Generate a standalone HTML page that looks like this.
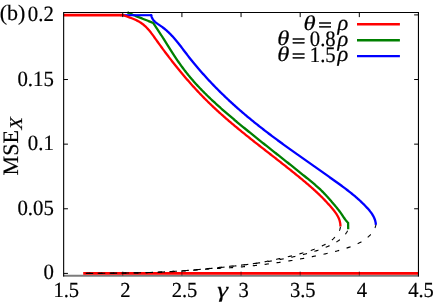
<!DOCTYPE html>
<html><head><meta charset="utf-8"><title>plot</title>
<style>html,body{margin:0;padding:0;background:#fff;}body{width:436px;height:307px;overflow:hidden;font-family:"Liberation Serif",serif;}svg{display:block}</style>
</head><body>
<svg width="436" height="307" viewBox="0 0 436 307" style="will-change:transform">
<rect width="436" height="307" fill="#fff"/>
<path d="M63.15,275.75 L418.95,275.75" stroke="#7c7c7c" stroke-width="1.9" fill="none"/>
<g fill="none" stroke-width="2.30" stroke-linejoin="round" stroke-linecap="butt">
<path d="M127.40,12.30 L128.04,12.61 L128.69,12.92 L129.34,13.23 L129.99,13.53 L130.64,13.82 L131.29,14.12 L131.95,14.41 L132.61,14.69 L133.26,14.97 L133.92,15.25 L134.58,15.53 L135.25,15.80 L135.91,16.07 L136.57,16.34 L137.24,16.61 L137.90,16.87 L138.57,17.14 L139.24,17.40 L139.90,17.66 L140.57,17.92 L141.24,18.18 L141.91,18.44 L142.57,18.70 L143.24,18.96 L143.91,19.22 L144.58,19.48 L145.25,19.74 L145.91,20.00 L146.58,20.26 L147.25,20.53 L147.91,20.79 L148.58,21.06 L149.24,21.33 L149.90,21.60 L150.56,21.88 L151.23,22.15 L151.88,22.43 L152.54,22.71 L153.20,23.00 L153.20,23.00 L153.83,23.99 L154.47,24.98 L155.13,25.96 L155.78,26.93 L156.44,27.91 L157.11,28.88 L157.77,29.85 L158.42,30.83 L159.07,31.81 L159.72,32.79 L160.36,33.77 L160.99,34.76 L161.62,35.75 L162.25,36.74 L162.88,37.74 L163.50,38.73 L164.12,39.73 L164.74,40.73 L165.36,41.72 L165.98,42.72 L166.60,43.72 L167.22,44.72 L167.84,45.72 L168.47,46.72 L169.10,47.71 L169.73,48.71 L170.36,49.70 L171.00,50.70 L171.64,51.69 L172.28,52.68 L172.92,53.67 L173.57,54.65 L174.22,55.64 L174.87,56.62 L175.53,57.60 L176.19,58.58 L176.85,59.56 L177.52,60.53 L178.19,61.50 L178.87,62.47 L179.55,63.43 L180.23,64.39 L180.92,65.35 L181.61,66.31 L182.31,67.26 L183.01,68.20 L183.71,69.15 L184.42,70.09 L185.14,71.02 L185.86,71.95 L186.59,72.88 L187.32,73.80 L188.05,74.72 L188.79,75.63 L189.54,76.54 L190.29,77.44 L191.05,78.34 L191.81,79.23 L192.58,80.12 L193.35,81.01 L194.13,81.89 L194.91,82.76 L195.69,83.64 L196.48,84.51 L197.28,85.37 L198.08,86.23 L198.88,87.09 L199.69,87.94 L200.50,88.79 L201.31,89.63 L202.13,90.48 L202.95,91.31 L203.78,92.15 L204.61,92.98 L205.44,93.81 L206.28,94.64 L207.12,95.46 L207.96,96.28 L208.81,97.09 L209.66,97.90 L210.51,98.71 L211.36,99.52 L212.22,100.33 L213.08,101.13 L213.95,101.93 L214.81,102.72 L215.68,103.52 L216.55,104.31 L217.43,105.10 L218.30,105.89 L219.18,106.67 L220.06,107.45 L220.94,108.24 L221.82,109.01 L222.71,109.79 L223.59,110.57 L224.48,111.34 L225.37,112.11 L226.26,112.88 L227.15,113.65 L228.05,114.42 L228.94,115.18 L229.84,115.95 L230.74,116.71 L231.63,117.47 L232.53,118.23 L233.43,118.99 L234.33,119.75 L235.23,120.51 L236.14,121.26 L237.04,122.02 L237.94,122.77 L238.85,123.52 L239.76,124.27 L240.66,125.02 L241.57,125.77 L242.48,126.52 L243.39,127.27 L244.30,128.01 L245.21,128.76 L246.12,129.50 L247.03,130.25 L247.94,130.99 L248.86,131.73 L249.77,132.47 L250.68,133.21 L251.60,133.95 L252.52,134.69 L253.43,135.43 L254.35,136.17 L255.26,136.90 L256.18,137.64 L257.10,138.38 L258.02,139.11 L258.94,139.85 L259.86,140.58 L260.78,141.32 L261.70,142.05 L262.62,142.78 L263.54,143.52 L264.46,144.25 L265.38,144.98 L266.30,145.71 L267.22,146.44 L268.15,147.17 L269.07,147.90 L269.99,148.64 L270.91,149.37 L271.84,150.10 L272.76,150.83 L273.68,151.56 L274.60,152.29 L275.53,153.02 L276.45,153.75 L277.37,154.48 L278.30,155.21 L279.22,155.94 L280.14,156.67 L281.07,157.40 L281.99,158.13 L282.91,158.86 L283.84,159.59 L284.76,160.32 L285.68,161.05 L286.61,161.78 L287.53,162.51 L288.45,163.24 L289.37,163.98 L290.29,164.71 L291.22,165.44 L292.14,166.18 L293.06,166.91 L293.98,167.64 L294.90,168.38 L295.82,169.11 L296.74,169.85 L297.66,170.59 L298.58,171.32 L299.50,172.06 L300.41,172.80 L301.33,173.54 L302.25,174.28 L303.16,175.02 L304.08,175.76 L305.00,176.50 L305.91,177.24 L306.83,177.99 L307.74,178.73 L308.65,179.48 L309.57,180.22 L310.48,180.97 L311.39,181.72 L312.30,182.47 L313.20,183.22 L314.10,183.98 L315.00,184.74 L315.89,185.51 L316.78,186.28 L317.66,187.06 L318.53,187.85 L319.40,188.65 L320.26,189.45 L321.10,190.26 L321.94,191.09 L322.77,191.92 L323.59,192.76 L324.41,193.61 L325.21,194.46 L326.01,195.32 L326.81,196.19 L327.60,197.06 L328.38,197.94 L329.16,198.82 L329.93,199.71 L330.71,200.60 L331.48,201.49 L332.24,202.38 L333.01,203.27 L333.77,204.17 L334.53,205.07 L335.29,205.97 L336.04,206.87 L336.78,207.78 L337.52,208.70 L338.25,209.62 L338.97,210.55 L339.68,211.49 L340.38,212.43 L341.06,213.39 L341.74,214.35 L342.40,215.33 L343.05,216.31 L343.70,217.30 L344.36,218.27 L345.03,219.23 L345.74,220.17 L346.48,221.09 L347.26,221.96 L348.10,222.80 L348.2,229.3" stroke="#008000"/>
<path d="M122.5,15.2 L151.3,15.2" stroke="#0000ff" stroke-width="2.1"/>
<path d="M150.6,15.2 L151.3,15.2 L151.29,15.20 L151.57,16.55 L152.00,17.78 L152.58,18.90 L153.28,19.93 L154.10,20.88 L154.99,21.77 L155.96,22.60 L156.98,23.39 L158.05,24.16 L159.14,24.90 L160.23,25.65 L161.32,26.40 L162.40,27.17 L163.45,27.96 L164.47,28.77 L165.48,29.59 L166.47,30.44 L167.43,31.31 L168.38,32.19 L169.32,33.08 L170.23,34.00 L171.14,34.92 L172.02,35.86 L172.90,36.81 L173.76,37.78 L174.61,38.75 L175.45,39.74 L176.28,40.73 L177.10,41.73 L177.92,42.74 L178.73,43.75 L179.53,44.77 L180.32,45.80 L181.12,46.83 L181.91,47.86 L182.69,48.90 L183.48,49.94 L184.27,50.97 L185.06,52.01 L185.84,53.05 L186.64,54.08 L187.43,55.11 L188.23,56.14 L189.03,57.17 L189.84,58.19 L190.65,59.21 L191.47,60.23 L192.28,61.24 L193.11,62.25 L193.93,63.26 L194.76,64.26 L195.59,65.26 L196.43,66.26 L197.27,67.25 L198.11,68.25 L198.96,69.23 L199.81,70.22 L200.67,71.20 L201.53,72.18 L202.39,73.16 L203.25,74.13 L204.12,75.10 L204.99,76.07 L205.87,77.04 L206.74,78.00 L207.63,78.96 L208.51,79.91 L209.40,80.86 L210.29,81.81 L211.18,82.76 L212.08,83.70 L212.98,84.64 L213.89,85.58 L214.79,86.52 L215.70,87.45 L216.62,88.38 L217.53,89.30 L218.45,90.22 L219.37,91.14 L220.30,92.06 L221.23,92.97 L222.16,93.88 L223.09,94.79 L224.03,95.69 L224.97,96.60 L225.91,97.49 L226.85,98.39 L227.80,99.28 L228.75,100.17 L229.70,101.06 L230.66,101.94 L231.62,102.82 L232.58,103.70 L233.54,104.57 L234.51,105.44 L235.47,106.31 L236.44,107.18 L237.42,108.04 L238.39,108.90 L239.37,109.76 L240.35,110.61 L241.33,111.46 L242.32,112.31 L243.31,113.15 L244.30,114.00 L245.29,114.84 L246.28,115.67 L247.28,116.51 L248.28,117.34 L249.28,118.16 L250.28,118.99 L251.28,119.81 L252.29,120.63 L253.30,121.45 L254.31,122.27 L255.32,123.08 L256.33,123.89 L257.35,124.70 L258.37,125.51 L259.38,126.31 L260.41,127.12 L261.43,127.92 L262.45,128.71 L263.48,129.51 L264.51,130.30 L265.53,131.10 L266.57,131.89 L267.60,132.68 L268.63,133.46 L269.67,134.25 L270.70,135.03 L271.74,135.81 L272.78,136.59 L273.82,137.37 L274.86,138.15 L275.90,138.92 L276.95,139.69 L277.99,140.47 L279.04,141.24 L280.09,142.01 L281.14,142.77 L282.19,143.54 L283.24,144.31 L284.29,145.07 L285.34,145.83 L286.39,146.60 L287.45,147.36 L288.50,148.12 L289.56,148.88 L290.62,149.64 L291.67,150.39 L292.73,151.15 L293.79,151.91 L294.85,152.66 L295.91,153.41 L296.97,154.17 L298.03,154.92 L299.09,155.67 L300.16,156.43 L301.22,157.18 L302.28,157.93 L303.35,158.68 L304.41,159.43 L305.47,160.18 L306.54,160.93 L307.60,161.68 L308.67,162.43 L309.73,163.18 L310.80,163.93 L311.86,164.67 L312.93,165.42 L314.00,166.17 L315.06,166.92 L316.13,167.67 L317.19,168.42 L318.26,169.17 L319.32,169.92 L320.39,170.67 L321.45,171.42 L322.52,172.17 L323.58,172.92 L324.65,173.67 L325.71,174.42 L326.78,175.18 L327.84,175.93 L328.90,176.68 L329.97,177.44 L331.03,178.19 L332.09,178.95 L333.15,179.70 L334.21,180.46 L335.27,181.22 L336.33,181.98 L337.39,182.74 L338.45,183.50 L339.50,184.27 L340.55,185.03 L341.60,185.80 L342.65,186.58 L343.70,187.35 L344.74,188.13 L345.78,188.92 L346.82,189.71 L347.85,190.50 L348.87,191.30 L349.90,192.10 L350.91,192.91 L351.93,193.73 L352.93,194.55 L353.93,195.38 L354.93,196.21 L355.91,197.06 L356.90,197.91 L357.87,198.77 L358.84,199.63 L359.79,200.51 L360.75,201.40 L361.69,202.29 L362.62,203.20 L363.55,204.11 L364.46,205.04 L365.37,205.97 L366.27,206.92 L367.15,207.88 L368.03,208.85 L368.88,209.84 L369.71,210.84 L370.52,211.87 L371.29,212.91 L372.02,213.97 L372.70,215.06 L373.34,216.18 L373.92,217.32 L374.43,218.50 L374.88,219.70 L375.26,220.95 L375.56,222.23 L375.77,223.54 L375.90,224.90" stroke="#0000ff"/>
<path d="M63.65,15.10 L122.80,15.10" stroke="#ff0000" stroke-width="2.8"/>
<path d="M120.00,15.10 L122.00,15.10 L122.60,15.01 L123.81,15.42 L125.03,15.83 L126.25,16.25 L127.48,16.68 L128.71,17.11 L129.94,17.56 L131.16,18.02 L132.38,18.50 L133.58,19.00 L134.77,19.53 L135.95,20.07 L137.11,20.64 L138.25,21.24 L139.36,21.87 L140.45,22.54 L141.50,23.24 L142.53,23.97 L143.52,24.75 L144.48,25.56 L145.41,26.41 L146.31,27.29 L147.19,28.19 L148.05,29.13 L148.88,30.09 L149.70,31.07 L150.50,32.06 L151.29,33.08 L152.06,34.11 L152.83,35.15 L153.59,36.19 L154.34,37.25 L155.10,38.30 L155.85,39.36 L156.60,40.42 L157.36,41.48 L158.11,42.53 L158.87,43.58 L159.63,44.63 L160.39,45.68 L161.16,46.73 L161.92,47.77 L162.69,48.82 L163.46,49.86 L164.23,50.90 L165.01,51.94 L165.78,52.97 L166.56,54.01 L167.34,55.04 L168.13,56.07 L168.91,57.10 L169.70,58.13 L170.49,59.15 L171.28,60.17 L172.07,61.19 L172.87,62.21 L173.67,63.23 L174.47,64.24 L175.27,65.25 L176.08,66.26 L176.89,67.27 L177.70,68.27 L178.51,69.28 L179.33,70.28 L180.15,71.27 L180.97,72.27 L181.79,73.26 L182.62,74.25 L183.45,75.24 L184.28,76.22 L185.11,77.20 L185.95,78.18 L186.79,79.16 L187.64,80.13 L188.48,81.10 L189.33,82.07 L190.18,83.04 L191.04,84.00 L191.89,84.96 L192.75,85.92 L193.62,86.87 L194.48,87.82 L195.35,88.77 L196.23,89.71 L197.10,90.65 L197.98,91.59 L198.86,92.53 L199.75,93.46 L200.63,94.39 L201.53,95.31 L202.42,96.24 L203.32,97.16 L204.22,98.07 L205.12,98.99 L206.03,99.89 L206.94,100.80 L207.86,101.70 L208.78,102.60 L209.70,103.50 L210.62,104.39 L211.55,105.28 L212.48,106.16 L213.42,107.05 L214.35,107.93 L215.29,108.80 L216.24,109.68 L217.18,110.55 L218.13,111.42 L219.08,112.28 L220.04,113.14 L221.00,114.00 L221.95,114.86 L222.92,115.72 L223.88,116.57 L224.85,117.42 L225.82,118.26 L226.79,119.11 L227.76,119.95 L228.74,120.79 L229.72,121.63 L230.70,122.47 L231.68,123.30 L232.67,124.13 L233.65,124.96 L234.64,125.79 L235.63,126.62 L236.62,127.44 L237.62,128.26 L238.61,129.08 L239.61,129.90 L240.61,130.72 L241.61,131.54 L242.61,132.35 L243.62,133.16 L244.62,133.97 L245.63,134.78 L246.63,135.59 L247.64,136.40 L248.65,137.21 L249.66,138.01 L250.67,138.82 L251.69,139.62 L252.70,140.42 L253.71,141.23 L254.73,142.03 L255.75,142.83 L256.76,143.63 L257.78,144.43 L258.80,145.22 L259.82,146.02 L260.84,146.82 L261.85,147.61 L262.87,148.41 L263.89,149.21 L264.92,150.00 L265.94,150.80 L266.96,151.59 L267.98,152.39 L269.00,153.18 L270.02,153.98 L271.04,154.77 L272.06,155.57 L273.08,156.36 L274.10,157.16 L275.12,157.95 L276.14,158.75 L277.16,159.55 L278.18,160.34 L279.20,161.14 L280.22,161.94 L281.24,162.73 L282.26,163.53 L283.27,164.33 L284.29,165.13 L285.30,165.93 L286.32,166.74 L287.33,167.54 L288.34,168.34 L289.35,169.15 L290.36,169.95 L291.37,170.76 L292.38,171.57 L293.39,172.38 L294.39,173.19 L295.40,174.00 L296.40,174.81 L297.40,175.63 L298.40,176.45 L299.40,177.26 L300.39,178.08 L301.39,178.90 L302.38,179.73 L303.37,180.55 L304.36,181.38 L305.35,182.21 L306.33,183.04 L307.31,183.88 L308.29,184.72 L309.26,185.56 L310.23,186.41 L311.20,187.26 L312.17,188.11 L313.13,188.97 L314.08,189.83 L315.03,190.69 L315.98,191.57 L316.92,192.44 L317.86,193.32 L318.80,194.21 L319.72,195.10 L320.65,196.00 L321.56,196.90 L322.47,197.81 L323.38,198.73 L324.28,199.65 L325.17,200.58 L326.06,201.52 L326.94,202.46 L327.81,203.42 L328.68,204.37 L329.54,205.34 L330.39,206.32 L331.23,207.30 L332.07,208.29 L332.90,209.29 L333.71,210.30 L334.51,211.32 L335.28,212.36 L336.02,213.41 L336.72,214.48 L337.38,215.57 L337.99,216.69 L338.54,217.82 L339.04,218.98 L339.47,220.17 L339.82,221.39 L340.10,222.64 L340.29,223.93 L340.40,225.25 L340.40,226.60" stroke="#ff0000"/>
<path d="M83.2,273.4 L418.45,273.4" stroke="#ff0000" stroke-width="2.85"/>
</g>
<g fill="none" stroke="#000" stroke-width="1.15">
<path d="M340.39,226.70 L340.34,227.29 L340.23,227.96 L340.09,228.62 L339.90,229.26 L339.69,229.90 L339.44,230.52 L339.34,230.74 M334.99,237.06 L334.89,237.17 L334.43,237.66 L333.95,238.14 L333.47,238.61 L332.97,239.07 L332.47,239.51 L331.95,239.95 L331.95,239.95 M325.54,244.20 L325.22,244.37 L324.63,244.68 L324.03,244.99 L323.42,245.30 L322.82,245.59 L322.21,245.89 L321.79,246.08 M314.70,249.08 L314.13,249.30 L313.49,249.53 L312.86,249.76 L312.22,249.99 L311.59,250.22 L310.95,250.44 L310.75,250.51 M303.40,252.81 L303.20,252.87 L302.55,253.05 L301.90,253.24 L301.24,253.42 L300.59,253.60 L299.94,253.77 L299.35,253.93 M291.89,255.82 L291.42,255.93 L290.76,256.08 L290.11,256.24 L289.45,256.39 L288.79,256.55 L288.13,256.70 L287.80,256.77 M280.29,258.46 L280.22,258.48 L279.56,258.62 L278.90,258.77 L278.24,258.92 L277.58,259.06 L276.92,259.21 L276.26,259.35 L276.18,259.37 M268.65,260.97 L268.31,261.04 L267.65,261.18 L266.99,261.31 L266.32,261.44 L265.66,261.57 L265.00,261.70 L264.53,261.79 M256.95,263.12 L256.34,263.21 L255.67,263.31 L255.00,263.41 L254.33,263.51 L253.66,263.61 L253.00,263.70 L252.79,263.73 M245.15,264.68 L244.95,264.70 L244.28,264.77 L243.60,264.85 L242.93,264.92 L242.26,264.99 L241.59,265.07 L240.98,265.13 M233.32,265.92 L232.84,265.97 L232.17,266.03 L231.50,266.10 L230.82,266.17 L230.15,266.24 L229.48,266.31 L229.14,266.35 M221.48,267.16 L221.40,267.17 L220.73,267.24 L220.06,267.31 L219.39,267.38 L218.71,267.45 L218.04,267.53 L217.37,267.60 L217.31,267.60 M209.65,268.40 L209.30,268.44 L208.62,268.51 L207.95,268.57 L207.28,268.64 L206.60,268.71 L205.93,268.78 L205.47,268.82 M197.80,269.55 L197.18,269.60 L196.50,269.66 L195.83,269.72 L195.16,269.78 L194.48,269.84 L193.81,269.90 L193.62,269.91 M185.94,270.52 L185.72,270.54 L185.05,270.59 L184.37,270.63 L183.70,270.68 L183.02,270.73 L182.35,270.78 L181.75,270.82 M174.07,271.31 L173.58,271.34 L172.90,271.38 L172.23,271.42 L171.55,271.46 L170.88,271.50 L170.20,271.53 L169.88,271.55 M162.19,271.95 L162.10,271.95 L161.43,271.98 L160.75,272.01 L160.08,272.04 L159.40,272.07 L158.72,272.10 L158.05,272.13 L157.99,272.13 M150.30,272.44 L149.94,272.45 L149.26,272.47 L148.59,272.49 L147.91,272.52 L147.24,272.54 L146.56,272.56 L146.10,272.58 M138.40,272.80 L137.77,272.82 L137.10,272.83 L136.42,272.85 L135.74,272.87 L135.07,272.88 L134.39,272.90 L134.20,272.90 M126.51,273.06 L126.28,273.06 L125.60,273.08 L124.92,273.09 L124.25,273.10 L123.57,273.11 L122.90,273.12 L122.31,273.13 M114.61,273.23 L114.10,273.24 L113.43,273.25 L112.75,273.25 L112.07,273.26 L111.40,273.27 L110.72,273.27 L110.41,273.28 M102.71,273.34 L102.61,273.34 L101.93,273.34 L101.25,273.34 L100.58,273.35 L99.90,273.35 L99.23,273.35 L98.55,273.36 L98.51,273.36 M90.81,273.39 L90.44,273.39 L89.76,273.39 L89.08,273.39 L88.41,273.39 L87.73,273.39 L87.06,273.39 L86.61,273.39"/>
<path d="M347.56,230.69 L347.28,231.24 L346.94,231.85 L346.58,232.45 L346.21,233.03 L345.83,233.60 L345.42,234.15 L345.35,234.26 M339.85,239.68 L339.67,239.83 L339.12,240.23 L338.57,240.62 L338.01,241.00 L337.44,241.38 L336.87,241.74 L336.38,242.05 M329.52,245.64 L328.96,245.89 L328.33,246.17 L327.70,246.45 L327.07,246.72 L326.43,247.00 L325.80,247.26 L325.67,247.32 M318.42,250.07 L318.07,250.19 L317.42,250.42 L316.76,250.64 L316.11,250.85 L315.46,251.07 L314.80,251.28 L314.44,251.39 M307.00,253.56 L306.86,253.60 L306.19,253.78 L305.52,253.96 L304.86,254.13 L304.19,254.30 L303.52,254.47 L302.93,254.62 M295.39,256.38 L294.78,256.52 L294.10,256.66 L293.43,256.81 L292.75,256.95 L292.07,257.10 L291.40,257.24 L291.28,257.26 M283.68,258.78 L283.28,258.86 L282.60,258.99 L281.93,259.12 L281.25,259.24 L280.57,259.37 L279.90,259.49 L279.55,259.55 M271.92,260.89 L271.76,260.92 L271.08,261.03 L270.40,261.14 L269.72,261.25 L269.04,261.37 L268.36,261.48 L267.77,261.57 M260.11,262.74 L259.52,262.83 L258.84,262.93 L258.16,263.02 L257.48,263.12 L256.79,263.22 L256.11,263.31 L255.96,263.34 M248.28,264.37 L247.93,264.41 L247.25,264.50 L246.57,264.59 L245.89,264.67 L245.20,264.76 L244.52,264.84 L244.11,264.89 M236.41,265.81 L236.32,265.82 L235.64,265.89 L234.96,265.97 L234.27,266.05 L233.59,266.12 L232.91,266.20 L232.24,266.27 M224.53,267.09 L224.01,267.14 L223.32,267.21 L222.64,267.28 L221.95,267.35 L221.27,267.42 L220.58,267.49 L220.35,267.51 M212.64,268.26 L212.36,268.28 L211.67,268.35 L210.99,268.41 L210.30,268.48 L209.61,268.54 L208.93,268.60 L208.46,268.65 M200.74,269.34 L200.69,269.34 L200.00,269.40 L199.32,269.46 L198.63,269.52 L197.94,269.58 L197.26,269.64 L196.57,269.70 L196.55,269.70 M188.83,270.33 L188.32,270.37 L187.64,270.42 L186.95,270.47 L186.26,270.53 L185.57,270.58 L184.89,270.63 L184.64,270.65 M176.91,271.19 L176.63,271.21 L175.95,271.25 L175.26,271.30 L174.57,271.34 L173.88,271.38 L173.19,271.43 L172.72,271.45 M164.98,271.89 L164.94,271.89 L164.25,271.93 L163.56,271.96 L162.88,271.99 L162.19,272.03 L161.50,272.06 L160.81,272.09 L160.79,272.09 M153.04,272.40 L152.55,272.42 L151.87,272.44 L151.18,272.47 L150.49,272.49 L149.80,272.51 L149.11,272.53 L148.84,272.54 M141.10,272.75 L140.85,272.76 L140.17,272.78 L139.48,272.79 L138.79,272.81 L138.10,272.82 L137.41,272.84 L136.90,272.85 M129.15,272.98 L128.46,272.99 L127.78,273.00 L127.09,273.01 L126.40,273.02 L125.71,273.03 L125.02,273.04 L124.95,273.04 M117.20,273.12 L116.76,273.13 L116.07,273.13 L115.38,273.14 L114.69,273.15 L114.00,273.15 L113.32,273.16 L113.00,273.16 M105.25,273.22 L105.05,273.22 L104.36,273.22 L103.67,273.23 L102.98,273.23 L102.30,273.24 L101.61,273.24 L101.05,273.25 M93.30,273.30 L92.65,273.31 L91.96,273.31 L91.27,273.32 L90.58,273.33 L89.89,273.33 L89.20,273.34 L89.10,273.34"/>
<path d="M375.90,224.90 L375.71,225.67 L375.49,226.42 L375.24,227.16 L374.96,227.88 L374.94,227.93 M370.75,234.40 L370.37,234.82 L369.85,235.36 L369.31,235.90 L368.77,236.42 L368.21,236.92 L367.74,237.33 M361.40,241.77 L360.76,242.13 L360.09,242.50 L359.41,242.86 L358.73,243.21 L358.04,243.55 L357.68,243.72 M350.54,246.72 L350.20,246.85 L349.47,247.11 L348.74,247.37 L348.01,247.62 L347.29,247.87 L346.58,248.11 M339.17,250.39 L338.50,250.58 L337.77,250.78 L337.03,250.98 L336.30,251.18 L335.56,251.38 L335.12,251.49 M327.59,253.34 L327.45,253.37 L326.71,253.54 L325.97,253.71 L325.23,253.87 L324.48,254.04 L323.74,254.20 L323.49,254.26 M315.91,255.88 L315.56,255.95 L314.81,256.11 L314.06,256.26 L313.32,256.42 L312.57,256.58 L311.82,256.73 L311.80,256.73 M304.20,258.24 L303.58,258.36 L302.83,258.50 L302.09,258.64 L301.34,258.78 L300.59,258.92 L300.07,259.01 M292.44,260.34 L292.33,260.36 L291.57,260.48 L290.82,260.60 L290.07,260.73 L289.32,260.85 L288.56,260.97 L288.29,261.01 M280.63,262.19 L280.27,262.24 L279.52,262.35 L278.76,262.46 L278.01,262.57 L277.25,262.68 L276.50,262.79 L276.47,262.79 M268.80,263.85 L268.18,263.94 L267.42,264.04 L266.67,264.13 L265.91,264.23 L265.15,264.33 L264.63,264.40 M256.94,265.33 L256.81,265.34 L256.06,265.43 L255.30,265.51 L254.54,265.60 L253.78,265.68 L253.02,265.76 L252.76,265.79 M245.05,266.57 L244.66,266.60 L243.90,266.67 L243.14,266.74 L242.38,266.81 L241.62,266.88 L240.87,266.94 M233.14,267.53 L232.48,267.58 L231.72,267.63 L230.96,267.68 L230.20,267.73 L229.44,267.78 L228.95,267.81 M221.21,268.25 L221.05,268.26 L220.29,268.30 L219.53,268.35 L218.77,268.39 L218.01,268.44 L217.24,268.48 L217.02,268.49 M209.29,269.00 L208.86,269.03 L208.10,269.09 L207.34,269.15 L206.58,269.21 L205.82,269.27 L205.10,269.33 M197.38,269.98 L196.69,270.04 L195.93,270.10 L195.16,270.16 L194.40,270.22 L193.64,270.28 L193.19,270.31 M185.46,270.86 L185.27,270.88 L184.50,270.93 L183.74,270.97 L182.98,271.02 L182.22,271.07 L181.46,271.12 L181.27,271.13 M173.53,271.56 L173.07,271.59 L172.31,271.62 L171.55,271.66 L170.78,271.70 L170.02,271.74 L169.34,271.77 M161.59,272.10 L160.87,272.13 L160.11,272.16 L159.34,272.19 L158.58,272.22 L157.82,272.25 L157.40,272.26 M149.65,272.51 L149.42,272.52 L148.66,272.54 L147.90,272.56 L147.13,272.58 L146.37,272.60 L145.61,272.62 L145.45,272.63 M137.70,272.81 L137.21,272.82 L136.44,272.83 L135.68,272.85 L134.92,272.86 L134.15,272.87 L133.51,272.89 M125.76,273.01 L125.75,273.01 L124.99,273.02 L124.23,273.03 L123.46,273.04 L122.70,273.05 L121.94,273.06 L121.56,273.07 M113.81,273.16 L113.54,273.16 L112.77,273.17 L112.01,273.17 L111.25,273.18 L110.48,273.19 L109.72,273.20 L109.61,273.20 M101.86,273.26 L101.32,273.26 L100.56,273.27 L99.79,273.28 L99.03,273.28 L98.27,273.29 L97.66,273.29 M89.91,273.35 L89.87,273.35 L89.11,273.35 L88.34,273.36 L87.58,273.36 L86.82,273.37 L86.05,273.38 L85.71,273.38"/>
</g>
<g stroke="#000" stroke-width="1" fill="none" stroke-linecap="butt">
<path d="M63.65,276.5 L63.65,12.50 L418.45,12.50 L418.45,276.5" stroke-width="1.1" stroke-linejoin="miter"/>
<path d="M122.78,12.50 v4.60"/>
<path d="M122.78,275.70 v-4.30" stroke-opacity="0.5"/>
<path d="M181.92,12.50 v4.60"/>
<path d="M181.92,275.70 v-4.30" stroke-opacity="0.5"/>
<path d="M241.05,12.50 v4.60"/>
<path d="M241.05,275.70 v-4.30" stroke-opacity="0.5"/>
<path d="M300.18,12.50 v4.60"/>
<path d="M300.18,275.70 v-4.30" stroke-opacity="0.5"/>
<path d="M359.32,12.50 v4.60"/>
<path d="M359.32,275.70 v-4.30" stroke-opacity="0.5"/>
<path d="M63.65,273.40 h4.30"/>
<path d="M63.65,208.77 h4.30"/>
<path d="M418.45,208.77 h-4.30"/>
<path d="M63.65,144.15 h4.30"/>
<path d="M418.45,144.15 h-4.30"/>
<path d="M63.65,79.52 h4.30"/>
<path d="M418.45,79.52 h-4.30"/>
<path d="M418.45,14.90 h-4.30"/>
</g>
<g fill="none" stroke-width="2.45">
<path d="M357.0,24.2 H399.9" stroke="#ff0000"/>
<path d="M357.0,40.2 H399.9" stroke="#008000"/>
<path d="M357.0,56.1 H399.9" stroke="#0000ff"/>
</g>
<g font-family="'Liberation Serif', serif" font-size="22px" fill="#000" stroke="#000" stroke-width="0.2" text-rendering="geometricPrecision">
<text transform="translate(-0.30,20.30)">(b)</text>
<text transform="translate(53.80,20.90) scale(0.945,0.99)" text-anchor="end">0.2</text>
<text transform="translate(53.80,85.52) scale(0.945,0.99)" text-anchor="end">0.15</text>
<text transform="translate(53.80,150.15) scale(0.945,0.99)" text-anchor="end">0.1</text>
<text transform="translate(53.80,214.77) scale(0.945,0.99)" text-anchor="end">0.05</text>
<text transform="translate(53.80,279.40) scale(0.945,0.99)" text-anchor="end">0</text>
<text transform="translate(66.25,296.60) scale(0.935,0.975)" text-anchor="middle">1.5</text>
<text transform="translate(125.38,296.60) scale(0.935,0.975)" text-anchor="middle">2</text>
<text transform="translate(184.52,296.60) scale(0.935,0.975)" text-anchor="middle">2.5</text>
<text transform="translate(243.65,296.60) scale(0.935,0.975)" text-anchor="middle">3</text>
<text transform="translate(302.78,296.60) scale(0.935,0.975)" text-anchor="middle">3.5</text>
<text transform="translate(361.92,296.60) scale(0.935,0.975)" text-anchor="middle">4</text>
<text transform="translate(421.05,296.60) scale(0.935,0.975)" text-anchor="middle">4.5</text>
<text transform="translate(217.20,296.70) scale(1.25,1)" font-style="italic">γ</text>
<text transform="translate(17.80,175.40) rotate(-90)">MSE</text>
<text transform="translate(22.20,129.40) rotate(-90) scale(1.12,1)" font-style="italic" font-size="18px">X</text>
<text transform="translate(303.60,29.70) scale(1.12,0.96)" font-style="italic">θ</text>
<text transform="translate(318.20,31.00) scale(1.1,0.84)" stroke-width="0.55">=</text>
<text transform="translate(337.50,29.70) scale(1.02,1)" font-style="italic">ρ</text>
<text transform="translate(277.20,45.30) scale(1.12,0.96)" font-style="italic">θ</text>
<text transform="translate(291.80,46.60) scale(1.1,0.84)" stroke-width="0.55">=</text>
<text transform="translate(309.80,46.00) scale(0.94,1)">0.8</text>
<text transform="translate(337.50,45.80) scale(1.02,1)" font-style="italic">ρ</text>
<text transform="translate(277.20,60.90) scale(1.12,0.96)" font-style="italic">θ</text>
<text transform="translate(291.80,62.20) scale(1.1,0.84)" stroke-width="0.55">=</text>
<text transform="translate(309.80,61.60) scale(0.94,1)">1.5</text>
<text transform="translate(337.50,61.40) scale(1.02,1)" font-style="italic">ρ</text>
</g>
</svg>
</body></html>
